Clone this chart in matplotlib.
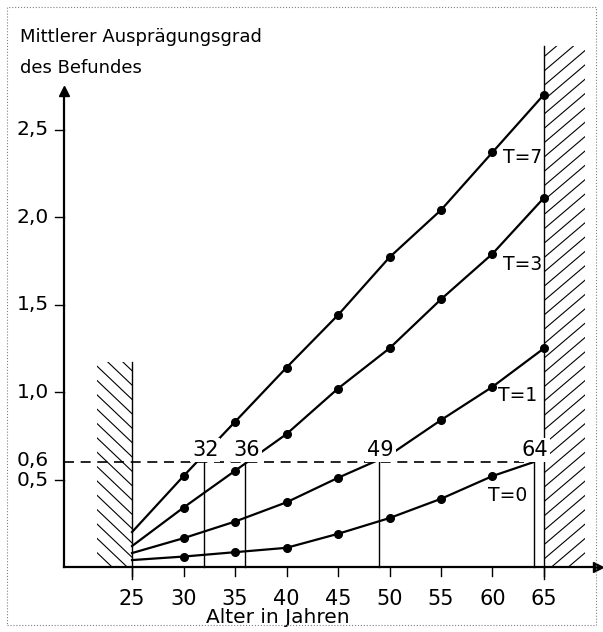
import matplotlib.pyplot as plt
from matplotlib.patches import Rectangle

# Alter in Jahren und mittlerer Auspraegungsgrad je Kurve
ages = [25, 30, 35, 40, 45, 50, 55, 60, 65]
t7 = [0.20, 0.52, 0.83, 1.14, 1.44, 1.77, 2.04, 2.37, 2.70]
t3 = [0.12, 0.34, 0.55, 0.76, 1.02, 1.25, 1.53, 1.79, 2.11]
t1 = [0.08, 0.165, 0.26, 0.37, 0.51, 0.64, 0.84, 1.03, 1.25]
t0 = [0.04, 0.06, 0.085, 0.11, 0.19, 0.28, 0.39, 0.52, 0.68]
curve_names = ["T=7", "T=3", "T=1", "T=0"]

threshold = 0.6
cross_ages = [32, 36, 49, 64]

xticks = [25, 30, 35, 40, 45, 50, 55, 60, 65]
yticks = [0.5, 1.0, 1.5, 2.0, 2.5]
ytick_labels = ["0,5", "1,0", "1,5", "2,0", "2,5"]

plt.rcParams["font.family"] = "DejaVu Sans"

fig = plt.figure(figsize=(6.03, 6.32), dpi=100)
ax = fig.add_axes([0, 0, 1, 1])
ax.set_xlim(12.18, 70.73)
ax.set_ylim(-0.371, 3.24)
for s in ax.spines.values():
    s.set_visible(False)
ax.set_xticks([])
ax.set_yticks([])

y_axis_x = 18.4
lw = 1.6


def hatch_box(x0, x1, top, rising, slope, step=0.082):
    # draw hatch lines by hand, clipped to the box
    box = Rectangle((x0, 0), x1 - x0, top, facecolor="none", edgecolor="none")
    ax.add_patch(box)
    dy = slope * (x1 - x0) * 10.3 / 175
    y = -dy
    while y < top:
        if rising:
            ln, = ax.plot([x0, x1], [y, y + dy], color="black", lw=0.8)
        else:
            ln, = ax.plot([x0, x1], [y + dy, y], color="black", lw=0.8)
        ln.set_clip_path(box)
        y += step


# axes with arrows
ax.plot([y_axis_x, y_axis_x], [0, 2.70], color="black", lw=lw)
ax.plot([y_axis_x, 70.0], [0, 0], color="black", lw=lw)
ax.plot([y_axis_x], [2.72], marker="^", ms=7, color="black", clip_on=False)
ax.plot([70.2], [0], marker=">", ms=7, color="black", clip_on=False)

# ticks
for x in xticks:
    ax.plot([x, x], [0, -0.05], color="black", lw=1)
    ax.text(x, -0.18, str(x), ha="center", va="center", fontsize=15)
for y, lab in zip(yticks, ytick_labels):
    ax.plot([y_axis_x - 0.9, y_axis_x], [y, y], color="black", lw=1)
    if y == 0.5:
        ax.text(y_axis_x - 1.5, y - 0.005, lab, ha="right", va="center", fontsize=14.5)
    else:
        ax.text(y_axis_x - 1.5, y, lab, ha="right", va="center", fontsize=14.5)
ax.text(y_axis_x - 1.5, threshold + 0.01, "0,6", ha="right", va="center", fontsize=14.5)

# hatched regions
hatch_box(21.6, 25, 1.17, rising=False, slope=0.95)
hatch_box(65, 69, 2.98, rising=True, slope=0.85)
ax.plot([25, 25], [-0.07, 1.17], color="black", lw=1)
ax.plot([65, 65], [-0.07, 2.98], color="black", lw=1)

# threshold line and drop lines
ax.plot([y_axis_x, cross_ages[-1]], [threshold, threshold], color="black",
        lw=1.2, dashes=(6, 4))
for a in cross_ages:
    ax.plot([a, a], [0, threshold], color="black", lw=1)
    ax.text(a + 0.1, threshold + 0.012, str(a), ha="center", va="bottom",
            fontsize=15, zorder=6,
            bbox=dict(facecolor="white", edgecolor="none", pad=1.5))

# curves
for vals in [t7, t3, t1]:
    ax.plot(ages, vals, color="black", lw=lw, zorder=4)
    ax.plot(ages[1:], vals[1:], "o", color="black", ms=5.5, zorder=4)
ax.plot(ages[:-1] + [cross_ages[-1]], t0[:-1] + [threshold], color="black",
        lw=lw, zorder=4)
ax.plot(ages[1:], t0[1:], "o", color="black", ms=5.5, zorder=4)

label_pos = [(62.9, 2.34), (62.9, 1.73), (62.4, 0.98), (61.5, 0.41)]
for name, (x, y) in zip(curve_names, label_pos):
    ax.text(x, y, name, ha="center", va="center", fontsize=13.5)

# axis titles
ax.text(14.1, 3.03, "Mittlerer Ausprägungsgrad", ha="left", va="center", fontsize=13)
ax.text(14.1, 2.85, "des Befundes", ha="left", va="center", fontsize=13)
ax.text(39.2, -0.29, "Alter in Jahren", ha="center", va="center", fontsize=14.5)

# dotted frame
fig.patches.append(Rectangle((7 / 603, 7 / 632), 589 / 603, 618 / 632,
                             transform=fig.transFigure, fill=False,
                             linestyle=":", linewidth=0.8, edgecolor="gray"))

fig.savefig("out.png", dpi=100)
